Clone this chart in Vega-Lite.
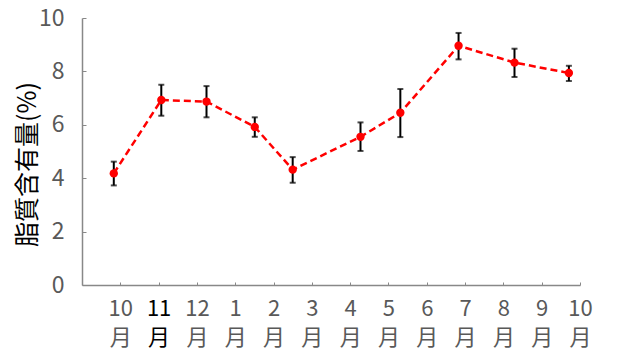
{
  "$schema": "https://vega.github.io/schema/vega-lite/v6.json",
  "width": 498,
  "height": 267,
  "autosize": {"type": "none"},
  "padding": {"left": 82, "top": 18, "right": 48, "bottom": 67},
  "background": "white",
  "config": {"view": {"stroke": null}, "font": "Noto Sans CJK JP"},
  "data": {"values": [
    {"t": -0.17, "v": 4.18, "lo": 3.73, "hi": 4.62},
    {"t": 1.07, "v": 6.93, "lo": 6.34, "hi": 7.50},
    {"t": 2.25, "v": 6.87, "lo": 6.28, "hi": 7.45},
    {"t": 3.51, "v": 5.92, "lo": 5.55, "hi": 6.28},
    {"t": 4.50, "v": 4.32, "lo": 3.83, "hi": 4.79},
    {"t": 6.27, "v": 5.55, "lo": 5.02, "hi": 6.09},
    {"t": 7.31, "v": 6.45, "lo": 5.54, "hi": 7.34},
    {"t": 8.83, "v": 8.96, "lo": 8.45, "hi": 9.44},
    {"t": 10.29, "v": 8.33, "lo": 7.79, "hi": 8.85},
    {"t": 11.71, "v": 7.94, "lo": 7.64, "hi": 8.21}
  ]},
  "encoding": {
    "x": {"field": "t", "type": "quantitative",
      "scale": {"domain": [-1, 12], "nice": false, "zero": false},
      "axis": {"title": null, "grid": false, "values": [0,1,2,3,4,5,6,7,8,9,10,11,12],
        "labelExpr": "[['10','11','12','1','2','3','4','5','6','7','8','9','10'][datum.value], '月']",
        "labelFontSize": 22, "labelColor": {"condition": {"test": "datum.value == 1", "value": "#000000"}, "value": "#595959"},
        "labelPadding": 16, "labelLineHeight": 29, "tickSize": -3, "tickColor": "#888888",
        "domainColor": "#888888", "domainWidth": 1.5, "labelFlush": false, "labelOverlap": false}}
  },
  "layer": [
    {"mark": {"type": "errorbar", "ticks": {"size": 6, "color": "#000000", "strokeWidth": 1.5}, "color": "#000000", "thickness": 2},
     "encoding": {
       "y": {"field": "lo", "type": "quantitative",
         "scale": {"domain": [0, 10], "nice": false},
         "axis": {"title": "脂質含有量(%)", "grid": false, "values": [0,1,2,3,4,5,6,7,8,9,10],
           "labelExpr": "datum.value % 2 == 0 ? datum.label : ''",
           "labelFontSize": 23, "labelColor": "#595959", "labelPadding": 22,
           "tickSize": -4, "tickColor": "#888888", "domainColor": "#888888", "domainWidth": 1.5,
           "titleFontSize": 25, "titleFontWeight": "normal", "titleColor": "#000000",
           "titleX": -42, "titleY": 146, "titleAngle": -90, "titleAlign": "center", "titleBaseline": "bottom"}},
       "y2": {"field": "hi"}
     }},
    {"mark": {"type": "line", "color": "#ff0000", "strokeWidth": 2.5, "strokeDash": [7, 4]},
     "encoding": {"y": {"field": "v", "type": "quantitative"}}},
    {"mark": {"type": "point", "filled": true, "color": "#ff0000", "size": 70, "opacity": 1},
     "encoding": {"y": {"field": "v", "type": "quantitative"}}}
  ]
}
